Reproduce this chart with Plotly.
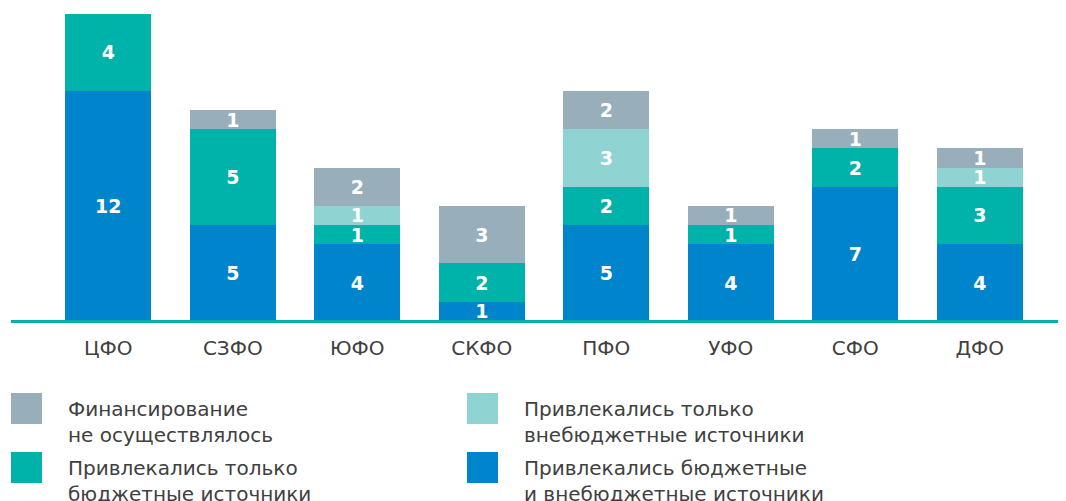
import plotly.graph_objects as go

categories = ["ЦФО", "СЗФО", "ЮФО", "СКФО", "ПФО", "УФО", "СФО", "ДФО"]
both_sources = [12, 5, 4, 1, 5, 4, 7, 4]
budget_only = [4, 5, 1, 2, 2, 1, 2, 3]
extra_only = [0, 0, 1, 0, 3, 0, 0, 1]
no_funding = [0, 1, 2, 3, 2, 1, 1, 1]

series_names = [
    "Привлекались бюджетные<br>и внебюджетные источники",
    "Привлекались только<br>бюджетные источники",
    "Привлекались только<br>внебюджетные источники",
    "Финансирование<br>не осуществлялось",
]
series_values = [both_sources, budget_only, extra_only, no_funding]
colors = ["#0085cc", "#00b3aa", "#8fd4d2", "#99aebb"]

FONT = "DejaVu Sans"
OFF = 8  # page body margin compensation

fig = go.Figure()
for name, vals, col in zip(series_names, series_values, colors):
    fig.add_trace(go.Bar(
        x=categories,
        y=[v if v > 0 else None for v in vals],
        name=name,
        marker=dict(color=col, line=dict(width=0)),
        text=[str(v) if v > 0 else "" for v in vals],
        textposition="inside",
        insidetextanchor="middle",
        textangle=0,
        constraintext="none",
        textfont=dict(color="white", size=19, family=FONT, weight="bold"),
        showlegend=False,
    ))

# plot area geometry (target pixels in screenshot)
W, H = 1066, 501
PL, PR, PT, PB = 46, 1042, 14, 321  # plot area in screenshot pixels
L = PL - OFF
T = PT - OFF
R = W - (PR - OFF)
B = H - (PB - OFF)
pw, ph = W - L - R, H - T - B

def px(x):
    return (x - OFF - L) / pw

def py(y):
    return (H - B - (y - OFF)) / ph

fig.update_layout(
    width=W, height=H,
    margin=dict(l=L, r=R, t=T, b=B),
    barmode="stack",
    bargap=0.31,
    plot_bgcolor="white",
    paper_bgcolor="white",
    uniformtext=dict(minsize=19, mode="show"),
    xaxis=dict(
        showgrid=False, showline=False, zeroline=False,
        ticks="", tickfont=dict(family=FONT, size=20, color="#404040"),
        ticklabelstandoff=13,
    ),
    yaxis=dict(range=[0, 16], visible=False, showgrid=False),
    font=dict(family=FONT),
)

# baseline
fig.add_shape(type="line", xref="paper", yref="paper",
              x0=px(11), x1=px(1074), y0=py(321.5), y1=py(321.5),
              line=dict(color="#00b3aa", width=3), layer="above")

# manual legend
legend_items = [
    (3, 11, 393, 66),
    (2, 467, 393, 522),
    (1, 11, 452, 66),
    (0, 467, 452, 522),
]
for idx, sx, sy, tx in legend_items:
    fig.add_shape(type="rect", xref="paper", yref="paper",
                  x0=px(sx), x1=px(sx + 31), y0=py(sy), y1=py(sy + 31),
                  fillcolor=colors[idx], line=dict(width=0))
    fig.add_annotation(xref="paper", yref="paper", x=px(tx), y=py(sy + 2),
                       text=series_names[idx], showarrow=False,
                       xanchor="left", yanchor="top", align="left",
                       font=dict(family=FONT, size=20, color="#404040"))

fig.write_html("out.html")
